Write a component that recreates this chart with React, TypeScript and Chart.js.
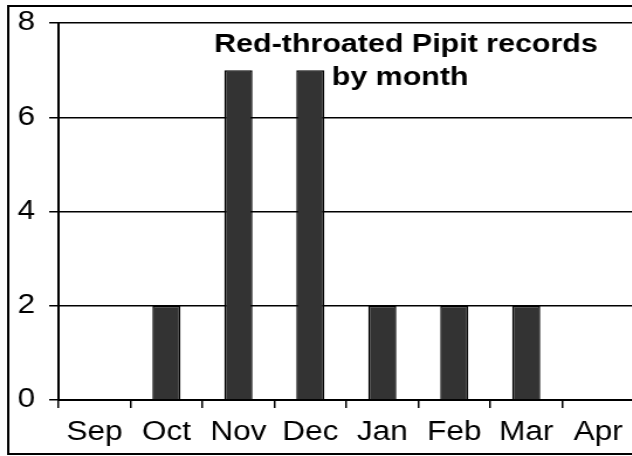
import React, { useEffect, useRef } from "react";
import { Chart, registerables } from "chart.js";

Chart.register(...registerables);

const months = ["Sep", "Oct", "Nov", "Dec", "Jan", "Feb", "Mar", "Apr"];
const records = [0, 2, 7, 7, 2, 2, 2, 0];
const yTicks = [0, 2, 4, 6, 8];
const titleLines = ["Red-throated Pipit records", "by month"];

const S = 1.17;
const W = 560;
const H = 456;
const FONT = "'Liberation Sans', Arial, Helvetica, sans-serif";

export default function App() {
  const ref = useRef<HTMLCanvasElement | null>(null);

  useEffect(() => {
    if (!ref.current) return;
    const framePlugin = {
      id: "frame",
      beforeDraw(chart: any) {
        const ctx = chart.ctx;
        ctx.save();
        ctx.fillStyle = "#fff";
        ctx.fillRect(0, 0, chart.width, chart.height);
        ctx.strokeStyle = "#000";
        ctx.lineWidth = 2;
        ctx.strokeRect(7, 6, chart.width - 10, 448);
        ctx.restore();
      },
      afterDraw(chart: any) {
        const ctx = chart.ctx;
        ctx.save();
        ctx.fillStyle = "#000";
        ctx.font = `bold 26px ${FONT}`;
        ctx.textAlign = "center";
        ctx.textBaseline = "alphabetic";
        ctx.fillText(titleLines[0], 347, 52);
        ctx.fillText(titleLines[1], 342, 85);
        ctx.restore();
      },
    };

    const chart = new Chart(ref.current, {
      type: "bar",
      data: {
        labels: months,
        datasets: [
          {
            data: records,
            backgroundColor: "#333333",
            borderColor: "#000000",
            borderWidth: 1.5,
            barPercentage: 0.39,
            categoryPercentage: 1,
          },
        ],
      },
      options: {
        responsive: false,
        animation: false,
        devicePixelRatio: 1,
        layout: { padding: { left: 6, top: 23, right: 18, bottom: 0 } },
        plugins: { legend: { display: false }, tooltip: { enabled: false }, title: { display: false } },
        scales: {
          x: {
            offset: true,
            grid: {
              display: true,
              offset: true,
              drawOnChartArea: false,
              drawTicks: true,
              tickLength: 8,
              color: "#000",
              lineWidth: 1.5,
            },
            border: { display: true, color: "#000", width: 2 },
            ticks: {
              color: "#000",
              font: { family: FONT, size: 27 },
              padding: 8,
              maxRotation: 0,
              autoSkip: false,
            },
            afterFit(scale: any) {
              scale.height = 56;
              scale.paddingLeft = 0;
              scale.paddingRight = 0;
            },
          },
          y: {
            min: 0,
            max: 8,
            afterBuildTicks(scale: any) {
              scale.ticks = yTicks.map((v) => ({ value: v }));
            },
            grid: {
              color: "#000",
              lineWidth: 1.5,
              drawTicks: true,
              tickLength: 8,
            },
            border: { display: true, color: "#000", width: 2 },
            ticks: {
              color: "#000",
              font: { family: FONT, size: 27 },
              padding: 12,
            },
            afterFit(scale: any) {
              scale.width = 44;
              scale.paddingTop = 0;
              scale.paddingBottom = 0;
            },
          },
        },
      },
      plugins: [framePlugin],
    });
    return () => chart.destroy();
  }, []);

  return (
    <div style={{ position: "absolute", left: 0, top: 0, width: 632, height: 456, overflow: "hidden", background: "#fff" }}>
      <div style={{ width: W, height: H, transform: `scaleX(${S})`, transformOrigin: "0 0" }}>
        <canvas ref={ref} width={W} height={H} style={{ display: "block" }} />
      </div>
    </div>
  );
}
